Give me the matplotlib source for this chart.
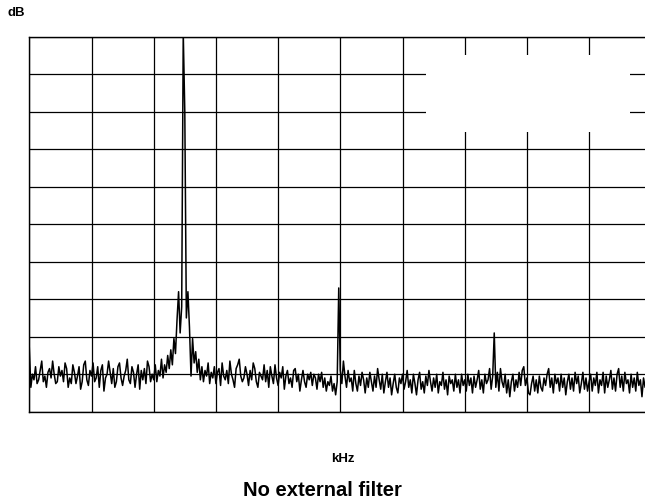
import numpy as np
import matplotlib
matplotlib.use("Agg")
import matplotlib.pyplot as plt
from matplotlib.patches import Rectangle

plt.rcParams['font.family'] = ['Liberation Sans', 'DejaVu Sans']

# Spectrum trace: level in dB, sampled every 0.025 kHz starting at 0 kHz
freq_start_khz = 0.0
freq_step_khz = 0.025
level_db = [
    -83.0, -93.5, -90.0, -91.5, -88.0, -92.5, -91.5, -89.0, -86.5, -92.0, -90.5, -93.5, -89.5, -88.5, -91.0, -86.5, -90.0, -92.5, -92.0, -88.0,
    -90.5, -89.0, -92.0, -87.0, -88.5, -93.5, -91.0, -92.5, -87.5, -89.5, -92.5, -90.5, -88.0, -94.0, -92.0, -87.5, -86.5, -91.5, -93.0, -89.0,
    -90.5, -87.0, -92.0, -91.0, -88.0, -93.5, -89.0, -87.5, -94.5, -91.0, -90.0, -86.5, -89.5, -92.5, -88.5, -93.5, -92.0, -88.0, -87.0, -91.0,
    -93.0, -90.5, -89.0, -86.0, -91.5, -92.5, -88.0, -89.5, -93.5, -90.0, -87.5, -94.0, -89.0, -91.5, -88.5, -92.5, -86.5, -88.0, -92.0, -90.0,
    -91.5, -87.5, -92.0, -89.0, -90.5, -86.0, -91.0, -87.5, -89.5, -85.0, -88.5, -83.5, -87.5, -80.5, -84.5, -75.5, -68.0, -79.0, -72.0, 1.0,
    -20.0, -75.0, -68.0, -77.5, -90.5, -80.5, -87.0, -84.0, -89.5, -86.0, -91.5, -88.0, -92.0, -89.0, -90.5, -87.0, -92.5, -89.5, -91.0, -88.0,
    -92.5, -89.5, -88.5, -93.0, -87.0, -90.5, -91.5, -89.0, -92.5, -86.5, -90.0, -91.5, -93.5, -88.5, -87.5, -86.0, -90.5, -92.0, -91.0, -88.0,
    -90.0, -93.0, -89.0, -91.5, -87.0, -88.5, -92.0, -93.5, -89.5, -90.5, -91.5, -87.5, -92.0, -89.0, -93.5, -88.0, -90.5, -92.5, -87.5, -91.0,
    -93.0, -89.5, -91.0, -88.0, -94.0, -90.5, -89.0, -92.5, -91.0, -93.5, -89.0, -88.5, -92.0, -90.0, -94.5, -91.5, -89.0, -92.0, -93.5, -90.0,
    -91.5, -89.5, -93.0, -90.0, -91.0, -94.0, -90.0, -92.0, -89.5, -93.5, -91.0, -94.5, -92.0, -93.0, -90.5, -94.5, -92.5, -95.5, -92.0, -67.0,
    -89.0, -92.5, -86.5, -90.5, -93.5, -89.0, -92.0, -91.0, -94.5, -89.0, -92.5, -94.5, -90.5, -93.0, -89.5, -91.5, -95.0, -91.0, -93.5, -89.5,
    -92.0, -94.5, -90.5, -93.5, -88.5, -91.5, -94.0, -90.0, -95.0, -92.0, -89.5, -93.5, -91.0, -95.5, -92.5, -90.0, -93.5, -95.0, -91.0, -92.5,
    -90.0, -94.0, -92.0, -89.0, -93.5, -91.5, -95.0, -90.0, -92.5, -95.5, -91.5, -89.5, -94.0, -92.0, -95.0, -90.5, -93.0, -89.0, -92.0, -94.5,
    -91.0, -93.5, -90.0, -95.0, -92.0, -93.0, -89.5, -94.0, -91.5, -95.5, -90.5, -92.5, -91.5, -94.5, -90.0, -93.5, -91.5, -95.0, -90.0, -93.0,
    -91.5, -94.5, -90.0, -93.0, -91.0, -95.0, -90.5, -93.5, -91.5, -89.0, -94.0, -91.5, -95.0, -90.0, -92.5, -91.5, -88.5, -94.0, -90.5, -79.0,
    -93.5, -89.5, -94.5, -88.5, -92.0, -93.5, -90.0, -95.0, -91.5, -96.0, -92.0, -90.0, -94.5, -91.5, -93.5, -89.5, -93.0, -89.0, -88.0, -93.0,
    -91.0, -95.0, -95.5, -92.5, -90.5, -94.5, -91.5, -95.0, -90.5, -93.5, -94.5, -91.0, -93.0, -90.0, -88.5, -93.5, -91.0, -95.0, -90.0, -92.5,
    -91.0, -94.5, -90.0, -93.5, -91.0, -95.5, -92.0, -90.0, -94.0, -91.0, -94.5, -89.5, -92.5, -90.5, -95.0, -92.5, -89.5, -94.0, -91.0, -94.5,
    -92.0, -90.0, -94.5, -91.0, -93.0, -89.5, -95.0, -91.5, -93.0, -89.5, -95.0, -90.5, -93.5, -91.5, -89.0, -94.0, -91.0, -94.5, -90.0, -88.5,
    -93.5, -90.5, -94.5, -89.5, -92.5, -91.5, -95.0, -90.0, -93.5, -91.0, -94.5, -89.5, -93.0, -91.5, -96.0, -91.0, -93.5, -90.0, -94.5, -91.5,
    -93.0,
]

x_ticks = list(range(0, 11))            # kHz grid, 10 divisions
y_ticks = list(range(-100, 1, 10))      # dB grid, 10 dB/div

freqs = freq_start_khz + freq_step_khz * np.arange(len(level_db))

fig = plt.figure(figsize=(6.45, 5.04), dpi=100)
ax = fig.add_axes([29.3 / 645, 92.3 / 504, 622 / 645, 375 / 504])
ax.set_xlim(0, 10)
ax.set_ylim(-100, 0)
ax.set_xticks(x_ticks)
ax.set_yticks(y_ticks)
ax.tick_params(length=0, labelbottom=False, labelleft=False)
ax.grid(True, color='black', linewidth=0.9, zorder=1)
ax.set_axisbelow(True)
for s in ax.spines.values():
    s.set_color('black')
    s.set_linewidth(1.0)

# white annotation box that hides part of the grid
ax.add_patch(Rectangle((6.38, -25.3), 9.65 - 6.38, 25.3 - 4.8,
                       facecolor='white', edgecolor='none', zorder=1.5))

ax.plot(freqs, level_db, color='black', linewidth=1.1, zorder=3, clip_on=True)

fig.text(16 / 645, 1 - 13 / 504, 'dB', ha='center', va='center',
         fontsize=9.5, fontweight='bold')
fig.text(343 / 645, 1 - 459 / 504, 'kHz', ha='center', va='center',
         fontsize=9.5, fontweight='bold')
fig.text(322 / 645, 1 - 490 / 504, 'No external filter', ha='center', va='center',
         fontsize=14.5, fontweight='bold')

fig.savefig('out.png', dpi=100)
